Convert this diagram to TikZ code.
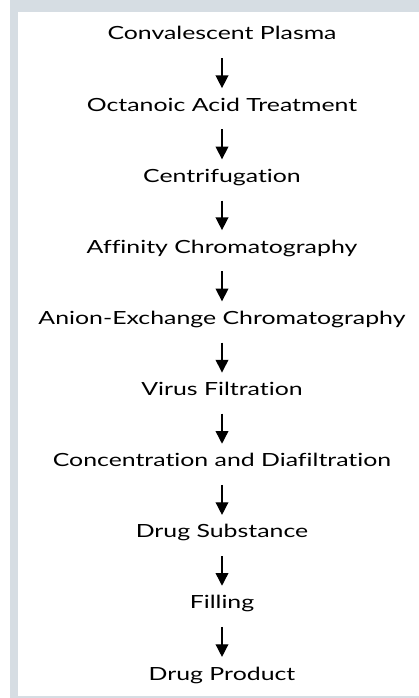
\documentclass[tikz,border=0pt]{standalone}
\usepackage{fontspec}
\setmainfont{Lato}[FakeStretch = 1.37, Ligatures = NoCommon]
\usetikzlibrary{arrows.meta}
\definecolor{panelgrey}{RGB}{214,221,227}
\tikzset{stage/.style = {anchor = base, font = \fontsize{12.9}{15}\selectfont, inner xsep = 0pt, inner ysep = 7pt, text height = 9.2pt, text depth = 5.7pt}}
\tikzset{flow/.style = {-{Triangle[length = 9pt, width = 9pt]}, line width = 1pt}}

\begin{document}
\begin{tikzpicture}
				\fill[panelgrey] (0.25, 0) rectangle (10.475, 17.45);
				\fill[white] (0.45, 0.05) rectangle (10.475, 17.15);
				\useasboundingbox (0, 0) rectangle (10.475, 17.45);

				\node[stage] (plasma) at (5.55, 16.45) {Convalescent Plasma};
				\node[stage] (octanoic) at (5.55, 14.67) {Octanoic Acid Treatment};
				\node[stage] (centrifuge) at (5.55, 12.89) {Centrifugation};
				\node[stage] (affinity) at (5.55, 11.12) {Affinity Chromatography};
				\node[stage] (anion) at (5.55, 9.34) {Anion-Exchange Chromatography};
				\node[stage] (virus) at (5.55, 7.56) {Virus Filtration};
				\node[stage] (concentration) at (5.55, 5.78) {Concentration and Diafiltration};
				\node[stage] (substance) at (5.55, 4.00) {Drug Substance};
				\node[stage] (filling) at (5.55, 2.23) {Filling};
				\node[stage] (product) at (5.55, 0.45) {Drug Product};

				\draw[flow] (plasma) to (octanoic);
				\draw[flow] (octanoic) to (centrifuge);
				\draw[flow] (centrifuge) to (affinity);
				\draw[flow] (affinity) to (anion);
				\draw[flow] (anion) to (virus);
				\draw[flow] (virus) to (concentration);
				\draw[flow] (concentration) to (substance);
				\draw[flow] (substance) to (filling);
				\draw[flow] (filling) to (product);
			\end{tikzpicture}
\end{document}
